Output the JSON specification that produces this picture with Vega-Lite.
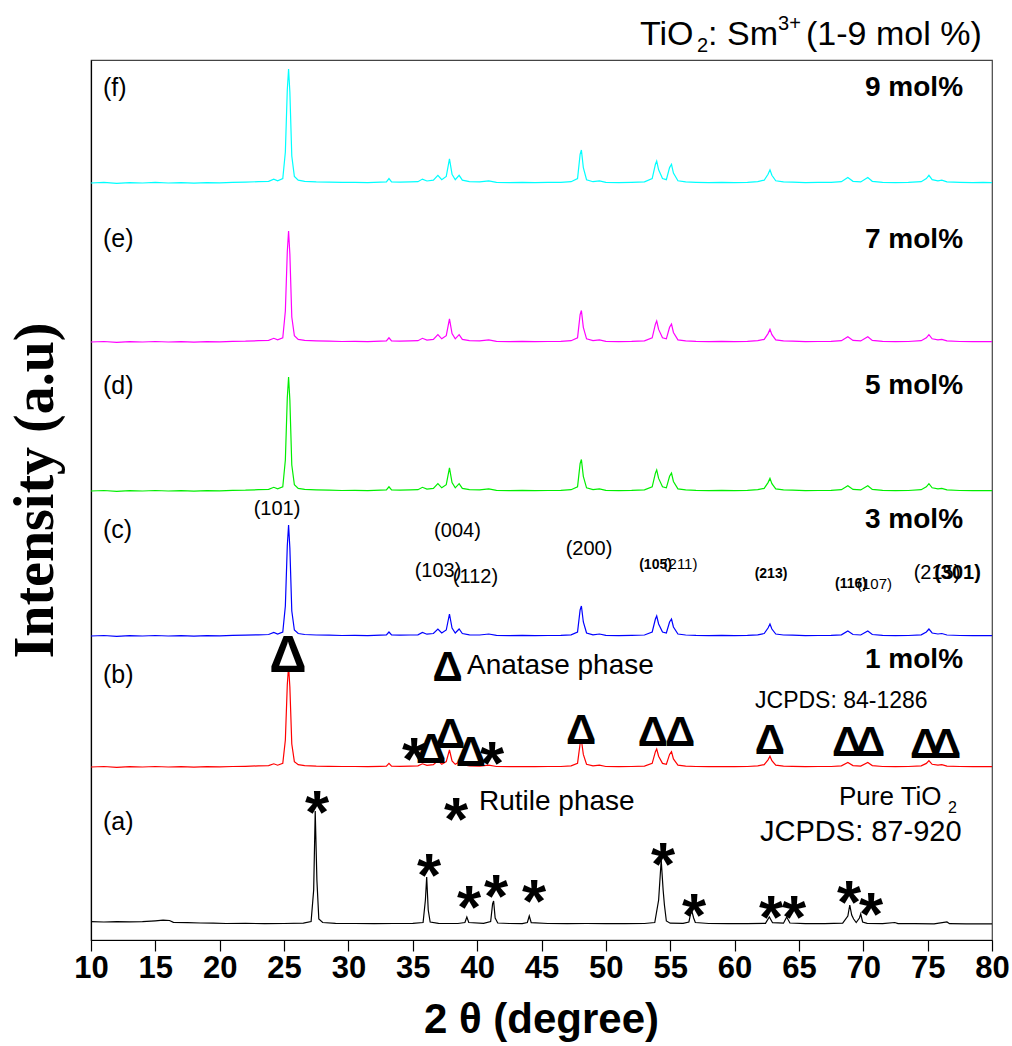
{
"$schema":"https://vega.github.io/schema/vega-lite/v6.json",
"width":901,"height":880,
"autosize":{"type":"none"},
"padding":{"left":91,"top":60,"right":20,"bottom":106},
"background":"white",
"config":{"view":{"stroke":"#444","strokeWidth":1.2},"font":"Liberation Sans"},
"datasets":{
"xrd":[
{"s":"a","x":10,"y":18.3},{"s":"a","x":11,"y":18.0},{"s":"a","x":12,"y":18.4},{"s":"a","x":13,"y":18.1},{"s":"a","x":14,"y":18.3},{"s":"a","x":15,"y":19.2},{"s":"a","x":15.6,"y":19.8},{"s":"a","x":16.1,"y":19.5},{"s":"a","x":16.4,"y":17.6},{"s":"a","x":17.5,"y":17.4},{"s":"a","x":18.5,"y":17.0},{"s":"a","x":19.5,"y":16.8},{"s":"a","x":20.5,"y":16.5},{"s":"a","x":22,"y":16.6},{"s":"a","x":23.5,"y":16.4},{"s":"a","x":25,"y":16.5},{"s":"a","x":26.5,"y":16.8},{"s":"a","x":27.1,"y":18.5},{"s":"a","x":27.3,"y":50},{"s":"a","x":27.42,"y":129},{"s":"a","x":27.55,"y":60},{"s":"a","x":27.7,"y":21},{"s":"a","x":28,"y":17.5},{"s":"a","x":29,"y":16.6},{"s":"a","x":30.5,"y":16.5},{"s":"a","x":32,"y":16.4},{"s":"a","x":33.5,"y":16.5},{"s":"a","x":35,"y":16.6},{"s":"a","x":35.8,"y":17.5},{"s":"a","x":35.98,"y":40},{"s":"a","x":36.08,"y":63},{"s":"a","x":36.2,"y":30},{"s":"a","x":36.35,"y":18},{"s":"a","x":37,"y":16.6},{"s":"a","x":38.5,"y":16.5},{"s":"a","x":39.05,"y":17.5},{"s":"a","x":39.2,"y":23},{"s":"a","x":39.35,"y":17.5},{"s":"a","x":40.5,"y":16.6},{"s":"a","x":41.05,"y":18.5},{"s":"a","x":41.2,"y":36},{"s":"a","x":41.28,"y":39},{"s":"a","x":41.4,"y":22},{"s":"a","x":41.6,"y":17},{"s":"a","x":42.5,"y":16.5},{"s":"a","x":43.5,"y":16.4},{"s":"a","x":43.9,"y":17.5},{"s":"a","x":44.05,"y":24},{"s":"a","x":44.2,"y":17.3},{"s":"a","x":45.5,"y":16.5},{"s":"a","x":47,"y":16.4},{"s":"a","x":48.5,"y":16.5},{"s":"a","x":50,"y":16.3},{"s":"a","x":51.5,"y":16.4},{"s":"a","x":53,"y":16.5},{"s":"a","x":53.8,"y":17.5},{"s":"a","x":54.1,"y":40},{"s":"a","x":54.3,"y":80},{"s":"a","x":54.45,"y":50},{"s":"a","x":54.55,"y":35},{"s":"a","x":54.7,"y":19},{"s":"a","x":55,"y":16.8},{"s":"a","x":56,"y":16.6},{"s":"a","x":56.45,"y":18},{"s":"a","x":56.6,"y":27},{"s":"a","x":56.7,"y":28},{"s":"a","x":56.82,"y":22},{"s":"a","x":56.95,"y":17.5},{"s":"a","x":58,"y":16.5},{"s":"a","x":59.5,"y":16.4},{"s":"a","x":61,"y":16.3},{"s":"a","x":62.4,"y":16.7},{"s":"a","x":62.7,"y":23},{"s":"a","x":62.95,"y":17.3},{"s":"a","x":63.8,"y":16.8},{"s":"a","x":64.05,"y":23},{"s":"a","x":64.3,"y":17},{"s":"a","x":65.5,"y":16.4},{"s":"a","x":67,"y":16.3},{"s":"a","x":68.4,"y":16.8},{"s":"a","x":68.8,"y":24},{"s":"a","x":68.95,"y":35},{"s":"a","x":69.1,"y":25},{"s":"a","x":69.25,"y":21},{"s":"a","x":69.45,"y":17.5},{"s":"a","x":69.7,"y":22},{"s":"a","x":69.8,"y":26},{"s":"a","x":69.95,"y":18},{"s":"a","x":70.3,"y":16.6},{"s":"a","x":71.5,"y":16.4},{"s":"a","x":72.45,"y":17.5},{"s":"a","x":72.7,"y":16.4},{"s":"a","x":74,"y":16.3},{"s":"a","x":75.5,"y":16.2},{"s":"a","x":76.5,"y":18},{"s":"a","x":76.7,"y":16.3},{"s":"a","x":78,"y":16.2},{"s":"a","x":80,"y":16.1},

{"s":"b","x":10,"y":173},{"s":"b","x":11,"y":173.5},{"s":"b","x":12,"y":172.7},{"s":"b","x":13,"y":173.4},{"s":"b","x":14,"y":173},{"s":"b","x":15,"y":173.5},{"s":"b","x":16,"y":173},{"s":"b","x":17,"y":173.3},{"s":"b","x":18,"y":172.8},{"s":"b","x":19,"y":173.4},{"s":"b","x":20,"y":173.2},{"s":"b","x":21,"y":173.5},{"s":"b","x":22,"y":173.7},{"s":"b","x":23,"y":174.1},{"s":"b","x":23.8,"y":174.4},{"s":"b","x":24.2,"y":176.2},{"s":"b","x":24.5,"y":174.8},{"s":"b","x":24.9,"y":176.6},{"s":"b","x":25.1,"y":200},{"s":"b","x":25.25,"y":255},{"s":"b","x":25.35,"y":274},{"s":"b","x":25.45,"y":253},{"s":"b","x":25.6,"y":196},{"s":"b","x":25.8,"y":178.4},{"s":"b","x":26.1,"y":175.3},{"s":"b","x":26.6,"y":174.4},{"s":"b","x":27.5,"y":173.9},{"s":"b","x":28.5,"y":173.7},{"s":"b","x":29.5,"y":173.5},{"s":"b","x":30.5,"y":173.5},{"s":"b","x":31.5,"y":173.4},{"s":"b","x":32.5,"y":173.7},{"s":"b","x":32.95,"y":173.9},{"s":"b","x":33.15,"y":176.6},{"s":"b","x":33.35,"y":173.9},{"s":"b","x":34,"y":173.7},{"s":"b","x":34.8,"y":173.9},{"s":"b","x":35.4,"y":174.1},{"s":"b","x":35.75,"y":176.2},{"s":"b","x":36.1,"y":174.6},{"s":"b","x":36.6,"y":175.3},{"s":"b","x":36.95,"y":179.3},{"s":"b","x":37.25,"y":175.7},{"s":"b","x":37.6,"y":178.4},{"s":"b","x":37.85,"y":190},{"s":"b","x":38.05,"y":179},{"s":"b","x":38.3,"y":175.7},{"s":"b","x":38.6,"y":178},{"s":"b","x":38.85,"y":175.3},{"s":"b","x":39.4,"y":174.1},{"s":"b","x":40.2,"y":173.9},{"s":"b","x":40.9,"y":174.8},{"s":"b","x":41.5,"y":173.5},{"s":"b","x":42.5,"y":173.4},{"s":"b","x":43.5,"y":173.5},{"s":"b","x":44.5,"y":173.3},{"s":"b","x":45.5,"y":173.5},{"s":"b","x":46.5,"y":173.5},{"s":"b","x":47.3,"y":174.1},{"s":"b","x":47.8,"y":176.6},{"s":"b","x":48,"y":196.4},{"s":"b","x":48.1,"y":200},{"s":"b","x":48.25,"y":185.6},{"s":"b","x":48.5,"y":175.7},{"s":"b","x":49,"y":174.1},{"s":"b","x":49.5,"y":174.8},{"s":"b","x":50,"y":173.5},{"s":"b","x":51,"y":173.4},{"s":"b","x":52,"y":173.5},{"s":"b","x":53,"y":173.9},{"s":"b","x":53.6,"y":176.6},{"s":"b","x":53.85,"y":188.3},{"s":"b","x":53.95,"y":191},{"s":"b","x":54.1,"y":183.8},{"s":"b","x":54.4,"y":176.6},{"s":"b","x":54.7,"y":175.7},{"s":"b","x":54.95,"y":185.6},{"s":"b","x":55.1,"y":188.3},{"s":"b","x":55.25,"y":181.1},{"s":"b","x":55.6,"y":174.8},{"s":"b","x":56.2,"y":173.9},{"s":"b","x":57,"y":173.5},{"s":"b","x":58,"y":173.4},{"s":"b","x":59,"y":173.5},{"s":"b","x":60,"y":173.3},{"s":"b","x":61,"y":173.5},{"s":"b","x":61.8,"y":174.1},{"s":"b","x":62.3,"y":175.3},{"s":"b","x":62.6,"y":180.2},{"s":"b","x":62.75,"y":183.8},{"s":"b","x":62.9,"y":179.3},{"s":"b","x":63.2,"y":174.8},{"s":"b","x":63.8,"y":173.9},{"s":"b","x":64.5,"y":173.7},{"s":"b","x":65.5,"y":173.4},{"s":"b","x":66.5,"y":173.5},{"s":"b","x":67.5,"y":173.5},{"s":"b","x":68.3,"y":174.1},{"s":"b","x":68.8,"y":177.5},{"s":"b","x":69.2,"y":174.4},{"s":"b","x":69.8,"y":173.9},{"s":"b","x":70.35,"y":177.5},{"s":"b","x":70.7,"y":174.4},{"s":"b","x":71.5,"y":173.5},{"s":"b","x":72.5,"y":173.4},{"s":"b","x":73.5,"y":173.5},{"s":"b","x":74.5,"y":174.1},{"s":"b","x":74.9,"y":176.6},{"s":"b","x":75.1,"y":179.3},{"s":"b","x":75.35,"y":175.7},{"s":"b","x":75.8,"y":174.8},{"s":"b","x":76.1,"y":175.3},{"s":"b","x":76.5,"y":173.9},{"s":"b","x":77.5,"y":173.5},{"s":"b","x":78.5,"y":173.3},{"s":"b","x":79.3,"y":173.5},{"s":"b","x":80,"y":173.3},

{"s":"c","x":10,"y":304},{"s":"c","x":11,"y":304.5},{"s":"c","x":12,"y":303.7},{"s":"c","x":13,"y":304.4},{"s":"c","x":14,"y":304},{"s":"c","x":15,"y":304.5},{"s":"c","x":16,"y":304},{"s":"c","x":17,"y":304.3},{"s":"c","x":18,"y":303.8},{"s":"c","x":19,"y":304.4},{"s":"c","x":20,"y":304.2},{"s":"c","x":21,"y":304.6},{"s":"c","x":22,"y":304.8},{"s":"c","x":23,"y":305.2},{"s":"c","x":23.8,"y":305.5},{"s":"c","x":24.2,"y":307.5},{"s":"c","x":24.5,"y":306},{"s":"c","x":24.9,"y":308},{"s":"c","x":25.1,"y":334},{"s":"c","x":25.25,"y":394},{"s":"c","x":25.35,"y":415},{"s":"c","x":25.45,"y":392},{"s":"c","x":25.6,"y":329},{"s":"c","x":25.8,"y":310},{"s":"c","x":26.1,"y":306.5},{"s":"c","x":26.6,"y":305.5},{"s":"c","x":27.5,"y":305},{"s":"c","x":28.5,"y":304.8},{"s":"c","x":29.5,"y":304.5},{"s":"c","x":30.5,"y":304.6},{"s":"c","x":31.5,"y":304.4},{"s":"c","x":32.5,"y":304.8},{"s":"c","x":32.95,"y":305},{"s":"c","x":33.15,"y":308},{"s":"c","x":33.35,"y":305},{"s":"c","x":34,"y":304.8},{"s":"c","x":34.8,"y":305},{"s":"c","x":35.4,"y":305.2},{"s":"c","x":35.75,"y":307.5},{"s":"c","x":36.1,"y":305.8},{"s":"c","x":36.6,"y":306.5},{"s":"c","x":36.95,"y":311},{"s":"c","x":37.25,"y":307},{"s":"c","x":37.6,"y":310},{"s":"c","x":37.85,"y":326},{"s":"c","x":38.05,"y":312},{"s":"c","x":38.3,"y":307},{"s":"c","x":38.6,"y":311},{"s":"c","x":38.85,"y":306.5},{"s":"c","x":39.4,"y":305.2},{"s":"c","x":40.2,"y":305},{"s":"c","x":40.9,"y":306},{"s":"c","x":41.5,"y":304.6},{"s":"c","x":42.5,"y":304.4},{"s":"c","x":43.5,"y":304.6},{"s":"c","x":44.5,"y":304.3},{"s":"c","x":45.5,"y":304.5},{"s":"c","x":46.5,"y":304.6},{"s":"c","x":47.3,"y":305.2},{"s":"c","x":47.8,"y":308},{"s":"c","x":48,"y":330},{"s":"c","x":48.1,"y":334},{"s":"c","x":48.25,"y":318},{"s":"c","x":48.5,"y":307},{"s":"c","x":49,"y":305.2},{"s":"c","x":49.5,"y":306},{"s":"c","x":50,"y":304.6},{"s":"c","x":51,"y":304.4},{"s":"c","x":52,"y":304.6},{"s":"c","x":53,"y":305},{"s":"c","x":53.6,"y":308},{"s":"c","x":53.85,"y":321},{"s":"c","x":53.95,"y":324},{"s":"c","x":54.1,"y":316},{"s":"c","x":54.4,"y":308},{"s":"c","x":54.7,"y":307},{"s":"c","x":54.95,"y":318},{"s":"c","x":55.1,"y":321},{"s":"c","x":55.25,"y":313},{"s":"c","x":55.6,"y":306},{"s":"c","x":56.2,"y":305},{"s":"c","x":57,"y":304.6},{"s":"c","x":58,"y":304.4},{"s":"c","x":59,"y":304.6},{"s":"c","x":60,"y":304.3},{"s":"c","x":61,"y":304.6},{"s":"c","x":61.8,"y":305.2},{"s":"c","x":62.3,"y":306.5},{"s":"c","x":62.6,"y":312},{"s":"c","x":62.75,"y":316},{"s":"c","x":62.9,"y":311},{"s":"c","x":63.2,"y":306},{"s":"c","x":63.8,"y":305},{"s":"c","x":64.5,"y":304.8},{"s":"c","x":65.5,"y":304.4},{"s":"c","x":66.5,"y":304.5},{"s":"c","x":67.5,"y":304.6},{"s":"c","x":68.3,"y":305.2},{"s":"c","x":68.8,"y":309},{"s":"c","x":69.2,"y":305.5},{"s":"c","x":69.8,"y":305},{"s":"c","x":70.35,"y":309},{"s":"c","x":70.7,"y":305.5},{"s":"c","x":71.5,"y":304.6},{"s":"c","x":72.5,"y":304.4},{"s":"c","x":73.5,"y":304.5},{"s":"c","x":74.5,"y":305.2},{"s":"c","x":74.9,"y":308},{"s":"c","x":75.1,"y":311},{"s":"c","x":75.35,"y":307},{"s":"c","x":75.8,"y":306},{"s":"c","x":76.1,"y":306.5},{"s":"c","x":76.5,"y":305},{"s":"c","x":77.5,"y":304.5},{"s":"c","x":78.5,"y":304.3},{"s":"c","x":79.3,"y":304.5},{"s":"c","x":80,"y":304.3},

{"s":"d","x":10,"y":449},{"s":"d","x":11,"y":449.5},{"s":"d","x":12,"y":448.7},{"s":"d","x":13,"y":449.4},{"s":"d","x":14,"y":449},{"s":"d","x":15,"y":449.5},{"s":"d","x":16,"y":449},{"s":"d","x":17,"y":449.3},{"s":"d","x":18,"y":448.8},{"s":"d","x":19,"y":449.4},{"s":"d","x":20,"y":449.2},{"s":"d","x":21,"y":449.6},{"s":"d","x":22,"y":449.8},{"s":"d","x":23,"y":450.3},{"s":"d","x":23.8,"y":450.6},{"s":"d","x":24.2,"y":452.7},{"s":"d","x":24.5,"y":451.1},{"s":"d","x":24.9,"y":453.2},{"s":"d","x":25.1,"y":480},{"s":"d","x":25.25,"y":542},{"s":"d","x":25.35,"y":563},{"s":"d","x":25.45,"y":540},{"s":"d","x":25.6,"y":475},{"s":"d","x":25.8,"y":455.3},{"s":"d","x":26.1,"y":451.6},{"s":"d","x":26.6,"y":450.6},{"s":"d","x":27.5,"y":450.1},{"s":"d","x":28.5,"y":449.8},{"s":"d","x":29.5,"y":449.5},{"s":"d","x":30.5,"y":449.6},{"s":"d","x":31.5,"y":449.4},{"s":"d","x":32.5,"y":449.8},{"s":"d","x":32.95,"y":450.1},{"s":"d","x":33.15,"y":453.2},{"s":"d","x":33.35,"y":450.1},{"s":"d","x":34,"y":449.8},{"s":"d","x":34.8,"y":450.1},{"s":"d","x":35.4,"y":450.3},{"s":"d","x":35.75,"y":452.7},{"s":"d","x":36.1,"y":450.9},{"s":"d","x":36.6,"y":451.6},{"s":"d","x":36.95,"y":456.4},{"s":"d","x":37.25,"y":452.2},{"s":"d","x":37.6,"y":455.3},{"s":"d","x":37.85,"y":472.1},{"s":"d","x":38.05,"y":457.4},{"s":"d","x":38.3,"y":452.2},{"s":"d","x":38.6,"y":456.4},{"s":"d","x":38.85,"y":451.6},{"s":"d","x":39.4,"y":450.3},{"s":"d","x":40.2,"y":450.1},{"s":"d","x":40.9,"y":451.1},{"s":"d","x":41.5,"y":449.6},{"s":"d","x":42.5,"y":449.4},{"s":"d","x":43.5,"y":449.6},{"s":"d","x":44.5,"y":449.3},{"s":"d","x":45.5,"y":449.5},{"s":"d","x":46.5,"y":449.6},{"s":"d","x":47.3,"y":450.3},{"s":"d","x":47.8,"y":453.2},{"s":"d","x":48,"y":476.3},{"s":"d","x":48.1,"y":480.5},{"s":"d","x":48.25,"y":463.7},{"s":"d","x":48.5,"y":452.2},{"s":"d","x":49,"y":450.3},{"s":"d","x":49.5,"y":451.1},{"s":"d","x":50,"y":449.6},{"s":"d","x":51,"y":449.4},{"s":"d","x":52,"y":449.6},{"s":"d","x":53,"y":450.1},{"s":"d","x":53.6,"y":453.2},{"s":"d","x":53.85,"y":466.9},{"s":"d","x":53.95,"y":470},{"s":"d","x":54.1,"y":461.6},{"s":"d","x":54.4,"y":453.2},{"s":"d","x":54.7,"y":452.2},{"s":"d","x":54.95,"y":463.7},{"s":"d","x":55.1,"y":466.9},{"s":"d","x":55.25,"y":458.5},{"s":"d","x":55.6,"y":451.1},{"s":"d","x":56.2,"y":450.1},{"s":"d","x":57,"y":449.6},{"s":"d","x":58,"y":449.4},{"s":"d","x":59,"y":449.6},{"s":"d","x":60,"y":449.3},{"s":"d","x":61,"y":449.6},{"s":"d","x":61.8,"y":450.3},{"s":"d","x":62.3,"y":451.6},{"s":"d","x":62.6,"y":457.4},{"s":"d","x":62.75,"y":461.6},{"s":"d","x":62.9,"y":456.4},{"s":"d","x":63.2,"y":451.1},{"s":"d","x":63.8,"y":450.1},{"s":"d","x":64.5,"y":449.8},{"s":"d","x":65.5,"y":449.4},{"s":"d","x":66.5,"y":449.5},{"s":"d","x":67.5,"y":449.6},{"s":"d","x":68.3,"y":450.3},{"s":"d","x":68.8,"y":454.3},{"s":"d","x":69.2,"y":450.6},{"s":"d","x":69.8,"y":450.1},{"s":"d","x":70.35,"y":454.3},{"s":"d","x":70.7,"y":450.6},{"s":"d","x":71.5,"y":449.6},{"s":"d","x":72.5,"y":449.4},{"s":"d","x":73.5,"y":449.5},{"s":"d","x":74.5,"y":450.3},{"s":"d","x":74.9,"y":453.2},{"s":"d","x":75.1,"y":456.4},{"s":"d","x":75.35,"y":452.2},{"s":"d","x":75.8,"y":451.1},{"s":"d","x":76.1,"y":451.6},{"s":"d","x":76.5,"y":450.1},{"s":"d","x":77.5,"y":449.5},{"s":"d","x":78.5,"y":449.3},{"s":"d","x":79.3,"y":449.5},{"s":"d","x":80,"y":449.3},

{"s":"e","x":10,"y":598},{"s":"e","x":11,"y":598.5},{"s":"e","x":12,"y":597.7},{"s":"e","x":13,"y":598.4},{"s":"e","x":14,"y":598},{"s":"e","x":15,"y":598.5},{"s":"e","x":16,"y":598},{"s":"e","x":17,"y":598.3},{"s":"e","x":18,"y":597.8},{"s":"e","x":19,"y":598.4},{"s":"e","x":20,"y":598.2},{"s":"e","x":21,"y":598.6},{"s":"e","x":22,"y":598.8},{"s":"e","x":23,"y":599.3},{"s":"e","x":23.8,"y":599.6},{"s":"e","x":24.2,"y":601.7},{"s":"e","x":24.5,"y":600.1},{"s":"e","x":24.9,"y":602.2},{"s":"e","x":25.1,"y":629},{"s":"e","x":25.25,"y":688},{"s":"e","x":25.35,"y":709},{"s":"e","x":25.45,"y":686},{"s":"e","x":25.6,"y":623},{"s":"e","x":25.8,"y":604.3},{"s":"e","x":26.1,"y":600.6},{"s":"e","x":26.6,"y":599.6},{"s":"e","x":27.5,"y":599.1},{"s":"e","x":28.5,"y":598.8},{"s":"e","x":29.5,"y":598.5},{"s":"e","x":30.5,"y":598.6},{"s":"e","x":31.5,"y":598.4},{"s":"e","x":32.5,"y":598.8},{"s":"e","x":32.95,"y":599.1},{"s":"e","x":33.15,"y":602.2},{"s":"e","x":33.35,"y":599.1},{"s":"e","x":34,"y":598.8},{"s":"e","x":34.8,"y":599.1},{"s":"e","x":35.4,"y":599.3},{"s":"e","x":35.75,"y":601.7},{"s":"e","x":36.1,"y":599.9},{"s":"e","x":36.6,"y":600.6},{"s":"e","x":36.95,"y":605.4},{"s":"e","x":37.25,"y":601.2},{"s":"e","x":37.6,"y":604.3},{"s":"e","x":37.85,"y":621.1},{"s":"e","x":38.05,"y":606.4},{"s":"e","x":38.3,"y":601.2},{"s":"e","x":38.6,"y":605.4},{"s":"e","x":38.85,"y":600.6},{"s":"e","x":39.4,"y":599.3},{"s":"e","x":40.2,"y":599.1},{"s":"e","x":40.9,"y":600.1},{"s":"e","x":41.5,"y":598.6},{"s":"e","x":42.5,"y":598.4},{"s":"e","x":43.5,"y":598.6},{"s":"e","x":44.5,"y":598.3},{"s":"e","x":45.5,"y":598.5},{"s":"e","x":46.5,"y":598.6},{"s":"e","x":47.3,"y":599.3},{"s":"e","x":47.8,"y":602.2},{"s":"e","x":48,"y":625.3},{"s":"e","x":48.1,"y":629.5},{"s":"e","x":48.25,"y":612.7},{"s":"e","x":48.5,"y":601.2},{"s":"e","x":49,"y":599.3},{"s":"e","x":49.5,"y":600.1},{"s":"e","x":50,"y":598.6},{"s":"e","x":51,"y":598.4},{"s":"e","x":52,"y":598.6},{"s":"e","x":53,"y":599.1},{"s":"e","x":53.6,"y":602.2},{"s":"e","x":53.85,"y":615.9},{"s":"e","x":53.95,"y":619},{"s":"e","x":54.1,"y":610.6},{"s":"e","x":54.4,"y":602.2},{"s":"e","x":54.7,"y":601.2},{"s":"e","x":54.95,"y":612.7},{"s":"e","x":55.1,"y":615.9},{"s":"e","x":55.25,"y":607.5},{"s":"e","x":55.6,"y":600.1},{"s":"e","x":56.2,"y":599.1},{"s":"e","x":57,"y":598.6},{"s":"e","x":58,"y":598.4},{"s":"e","x":59,"y":598.6},{"s":"e","x":60,"y":598.3},{"s":"e","x":61,"y":598.6},{"s":"e","x":61.8,"y":599.3},{"s":"e","x":62.3,"y":600.6},{"s":"e","x":62.6,"y":606.4},{"s":"e","x":62.75,"y":610.6},{"s":"e","x":62.9,"y":605.4},{"s":"e","x":63.2,"y":600.1},{"s":"e","x":63.8,"y":599.1},{"s":"e","x":64.5,"y":598.8},{"s":"e","x":65.5,"y":598.4},{"s":"e","x":66.5,"y":598.5},{"s":"e","x":67.5,"y":598.6},{"s":"e","x":68.3,"y":599.3},{"s":"e","x":68.8,"y":603.3},{"s":"e","x":69.2,"y":599.6},{"s":"e","x":69.8,"y":599.1},{"s":"e","x":70.35,"y":603.3},{"s":"e","x":70.7,"y":599.6},{"s":"e","x":71.5,"y":598.6},{"s":"e","x":72.5,"y":598.4},{"s":"e","x":73.5,"y":598.5},{"s":"e","x":74.5,"y":599.3},{"s":"e","x":74.9,"y":602.2},{"s":"e","x":75.1,"y":605.4},{"s":"e","x":75.35,"y":601.2},{"s":"e","x":75.8,"y":600.1},{"s":"e","x":76.1,"y":600.6},{"s":"e","x":76.5,"y":599.1},{"s":"e","x":77.5,"y":598.5},{"s":"e","x":78.5,"y":598.3},{"s":"e","x":79.3,"y":598.5},{"s":"e","x":80,"y":598.3},

{"s":"f","x":10,"y":757},{"s":"f","x":11,"y":757.6},{"s":"f","x":12,"y":756.7},{"s":"f","x":13,"y":757.4},{"s":"f","x":14,"y":757},{"s":"f","x":15,"y":757.6},{"s":"f","x":16,"y":757},{"s":"f","x":17,"y":757.3},{"s":"f","x":18,"y":756.8},{"s":"f","x":19,"y":757.4},{"s":"f","x":20,"y":757.2},{"s":"f","x":21,"y":757.7},{"s":"f","x":22,"y":757.9},{"s":"f","x":23,"y":758.3},{"s":"f","x":23.8,"y":758.7},{"s":"f","x":24.2,"y":760.9},{"s":"f","x":24.5,"y":759.2},{"s":"f","x":24.9,"y":761.4},{"s":"f","x":25.1,"y":788},{"s":"f","x":25.25,"y":850},{"s":"f","x":25.35,"y":871},{"s":"f","x":25.45,"y":848},{"s":"f","x":25.6,"y":784},{"s":"f","x":25.8,"y":763.6},{"s":"f","x":26.1,"y":759.8},{"s":"f","x":26.6,"y":758.7},{"s":"f","x":27.5,"y":758.1},{"s":"f","x":28.5,"y":757.9},{"s":"f","x":29.5,"y":757.6},{"s":"f","x":30.5,"y":757.7},{"s":"f","x":31.5,"y":757.4},{"s":"f","x":32.5,"y":757.9},{"s":"f","x":32.95,"y":758.1},{"s":"f","x":33.15,"y":761.4},{"s":"f","x":33.35,"y":758.1},{"s":"f","x":34,"y":757.9},{"s":"f","x":34.8,"y":758.1},{"s":"f","x":35.4,"y":758.3},{"s":"f","x":35.75,"y":760.9},{"s":"f","x":36.1,"y":759},{"s":"f","x":36.6,"y":759.8},{"s":"f","x":36.95,"y":764.7},{"s":"f","x":37.25,"y":760.3},{"s":"f","x":37.6,"y":763.6},{"s":"f","x":37.85,"y":781.2},{"s":"f","x":38.05,"y":765.8},{"s":"f","x":38.3,"y":760.3},{"s":"f","x":38.6,"y":764.7},{"s":"f","x":38.85,"y":759.8},{"s":"f","x":39.4,"y":758.3},{"s":"f","x":40.2,"y":758.1},{"s":"f","x":40.9,"y":759.2},{"s":"f","x":41.5,"y":757.7},{"s":"f","x":42.5,"y":757.4},{"s":"f","x":43.5,"y":757.7},{"s":"f","x":44.5,"y":757.3},{"s":"f","x":45.5,"y":757.6},{"s":"f","x":46.5,"y":757.7},{"s":"f","x":47.3,"y":758.3},{"s":"f","x":47.8,"y":761.4},{"s":"f","x":48,"y":785.6},{"s":"f","x":48.1,"y":790},{"s":"f","x":48.25,"y":772.4},{"s":"f","x":48.5,"y":760.3},{"s":"f","x":49,"y":758.3},{"s":"f","x":49.5,"y":759.2},{"s":"f","x":50,"y":757.7},{"s":"f","x":51,"y":757.4},{"s":"f","x":52,"y":757.7},{"s":"f","x":53,"y":758.1},{"s":"f","x":53.6,"y":761.4},{"s":"f","x":53.85,"y":775.7},{"s":"f","x":53.95,"y":779},{"s":"f","x":54.1,"y":770.2},{"s":"f","x":54.4,"y":761.4},{"s":"f","x":54.7,"y":760.3},{"s":"f","x":54.95,"y":772.4},{"s":"f","x":55.1,"y":775.7},{"s":"f","x":55.25,"y":766.9},{"s":"f","x":55.6,"y":759.2},{"s":"f","x":56.2,"y":758.1},{"s":"f","x":57,"y":757.7},{"s":"f","x":58,"y":757.4},{"s":"f","x":59,"y":757.7},{"s":"f","x":60,"y":757.3},{"s":"f","x":61,"y":757.7},{"s":"f","x":61.8,"y":758.3},{"s":"f","x":62.3,"y":759.8},{"s":"f","x":62.6,"y":765.8},{"s":"f","x":62.75,"y":770.2},{"s":"f","x":62.9,"y":764.7},{"s":"f","x":63.2,"y":759.2},{"s":"f","x":63.8,"y":758.1},{"s":"f","x":64.5,"y":757.9},{"s":"f","x":65.5,"y":757.4},{"s":"f","x":66.5,"y":757.6},{"s":"f","x":67.5,"y":757.7},{"s":"f","x":68.3,"y":758.3},{"s":"f","x":68.8,"y":762.5},{"s":"f","x":69.2,"y":758.7},{"s":"f","x":69.8,"y":758.1},{"s":"f","x":70.35,"y":762.5},{"s":"f","x":70.7,"y":758.7},{"s":"f","x":71.5,"y":757.7},{"s":"f","x":72.5,"y":757.4},{"s":"f","x":73.5,"y":757.6},{"s":"f","x":74.5,"y":758.3},{"s":"f","x":74.9,"y":761.4},{"s":"f","x":75.1,"y":764.7},{"s":"f","x":75.35,"y":760.3},{"s":"f","x":75.8,"y":759.2},{"s":"f","x":76.1,"y":759.8},{"s":"f","x":76.5,"y":758.1},{"s":"f","x":77.5,"y":757.6},{"s":"f","x":78.5,"y":757.3},{"s":"f","x":79.3,"y":757.6},{"s":"f","x":80,"y":757.3}
],
"notes":[
{"g":"lab","x":10.93,"y":852,"t":"(f)"},{"g":"lab","x":10.93,"y":701,"t":"(e)"},{"g":"lab","x":10.93,"y":554,"t":"(d)"},{"g":"lab","x":10.93,"y":410,"t":"(c)"},{"g":"lab","x":10.93,"y":265,"t":"(b)"},{"g":"lab","x":10.93,"y":118,"t":"(a)"},
{"g":"mol","x":77.75,"y":852,"t":"9 mol%"},{"g":"mol","x":77.75,"y":700,"t":"7 mol%"},{"g":"mol","x":77.75,"y":554,"t":"5 mol%"},{"g":"mol","x":77.75,"y":420,"t":"3 mol%"},{"g":"mol","x":77.75,"y":280,"t":"1 mol%"},
{"g":"i20","x":24.45,"y":431,"t":"(101)"},{"g":"i20","x":38.47,"y":409,"t":"(004)"},{"g":"i20","x":36.96,"y":369,"t":"(103)"},{"g":"i20","x":39.87,"y":363,"t":"(112)"},{"g":"i20","x":48.69,"y":391,"t":"(200)"},{"g":"i20","x":75.73,"y":367,"t":"(215)"},
{"g":"i15","x":55.80,"y":376,"t":"(211)"},{"g":"i15","x":70.87,"y":356,"t":"(107)"},
{"g":"ib15","x":53.86,"y":375,"t":"(105)"},{"g":"ib15","x":62.83,"y":366,"t":"(213)"},{"g":"ib15","x":69.05,"y":356,"t":"(116)"},
{"g":"ib20","x":77.32,"y":367,"t":"(301)"},
{"g":"ph","x":39.21,"y":274,"t":"Anatase phase"},{"g":"ph","x":40.14,"y":138,"t":"Rutile phase"},
{"g":"jc1","x":61.59,"y":239,"t":"JCPDS: 84-1286"},
{"g":"pure","x":68.11,"y":143,"t":"Pure TiO"},
{"g":"sub","x":76.58,"y":132,"t":"2"},
{"g":"jc2","x":61.98,"y":108,"t":"JCPDS: 87-920"},
{"g":"bigtri","x":25.31,"y":284,"t":"Δ"},
{"g":"tri","x":37.70,"y":272,"t":"Δ"},{"g":"tri","x":36.42,"y":190,"t":"Δ"},{"g":"tri","x":37.89,"y":205,"t":"Δ"},{"g":"tri","x":39.52,"y":187,"t":"Δ"},{"g":"tri","x":48.07,"y":209,"t":"Δ"},{"g":"tri","x":53.66,"y":207,"t":"Δ"},{"g":"tri","x":55.76,"y":207,"t":"Δ"},{"g":"tri","x":62.75,"y":199,"t":"Δ"},{"g":"tri","x":68.74,"y":197,"t":"Δ"},{"g":"tri","x":70.52,"y":197,"t":"Δ"},{"g":"tri","x":74.80,"y":195,"t":"Δ"},{"g":"tri","x":76.43,"y":195,"t":"Δ"},
{"g":"ast","x":27.56,"y":141,"t":"*"},{"g":"ast","x":36.26,"y":78,"t":"*"},{"g":"ast","x":39.37,"y":46,"t":"*"},{"g":"ast","x":41.47,"y":57,"t":"*"},{"g":"ast","x":44.42,"y":52,"t":"*"},{"g":"ast","x":54.44,"y":89,"t":"*"},{"g":"ast","x":56.85,"y":38,"t":"*"},{"g":"ast","x":62.83,"y":36,"t":"*"},{"g":"ast","x":64.62,"y":36,"t":"*"},{"g":"ast","x":68.89,"y":51,"t":"*"},{"g":"ast","x":70.60,"y":39,"t":"*"},{"g":"ast","x":38.36,"y":134,"t":"*"},{"g":"ast","x":35.10,"y":194,"t":"*"},{"g":"ast","x":41.16,"y":190,"t":"*"},
{"g":"ti","x":52.65,"y":895,"t":"TiO"},{"g":"ti","x":57.94,"y":895,"t":": Sm"},{"g":"ti","x":65.55,"y":895,"t":"(1-9 mol %)"},
{"g":"tisub","x":57.08,"y":888,"t":"2"},{"g":"tisub","x":63.38,"y":910,"t":"3+"}
]
},
"data":{"name":"xrd"},
"encoding":{
"x":{"field":"x","type":"quantitative","scale":{"domain":[10,80],"nice":false,"zero":false},
"axis":{"values":[10,15,20,25,30,35,40,45,50,55,60,65,70,75,80],"format":"d","grid":false,"domainColor":"#000","domainWidth":1.2,"tickColor":"#000","tickWidth":1.2,"tickSize":11,"labelFont":"Liberation Sans","labelFontWeight":"bold","labelFontSize":31,"labelColor":"#000","labelPadding":2,"labelFlush":false,"labelOverlap":false,"title":"2 θ (degree)","titleFont":"Liberation Sans","titleFontSize":42,"titleFontWeight":"bold","titleColor":"#000","titleBaseline":"alphabetic","titleX":450,"titleY":92}},
"y":{"field":"y","type":"quantitative","scale":{"domain":[0,880],"nice":false,"zero":false},
"axis":{"grid":false,"ticks":false,"labels":false,"domainColor":"#000","domainWidth":1.2,"title":"Intensity (a.u)","titleFont":"Liberation Serif","titleFontSize":56,"titleFontWeight":"bold","titleColor":"#000","titleAngle":-90,"titleAlign":"center","titleBaseline":"alphabetic","titleX":-39,"titleY":430}}
},
"layer":[
{"mark":{"type":"line","strokeWidth":1.2,"clip":true},
 "encoding":{"color":{"field":"s","type":"nominal","legend":null,"scale":{"domain":["a","b","c","d","e","f"],"range":["#000000","#ff0000","#0000ff","#00ee00","#ff00ff","#00ffff"]}}}},
{"data":{"name":"notes"},"transform":[{"filter":{"field":"g","equal":"lab"}}],"mark":{"type":"text","font":"Liberation Sans","fontSize":25,"align":"left","baseline":"middle","color":"#000"},"encoding":{"text":{"field":"t"}}},
{"data":{"name":"notes"},"transform":[{"filter":{"field":"g","equal":"mol"}}],"mark":{"type":"text","font":"Liberation Sans","fontSize":28,"fontWeight":"bold","align":"right","baseline":"middle","color":"#000"},"encoding":{"text":{"field":"t"}}},
{"data":{"name":"notes"},"transform":[{"filter":{"field":"g","equal":"i20"}}],"mark":{"type":"text","font":"Liberation Sans","fontSize":20,"align":"center","baseline":"middle","color":"#000"},"encoding":{"text":{"field":"t"}}},
{"data":{"name":"notes"},"transform":[{"filter":{"field":"g","equal":"i15"}}],"mark":{"type":"text","font":"Liberation Sans","fontSize":15,"align":"center","baseline":"middle","color":"#000"},"encoding":{"text":{"field":"t"}}},
{"data":{"name":"notes"},"transform":[{"filter":{"field":"g","equal":"ib15"}}],"mark":{"type":"text","font":"Liberation Sans","fontSize":14,"fontWeight":"bold","align":"center","baseline":"middle","color":"#000"},"encoding":{"text":{"field":"t"}}},
{"data":{"name":"notes"},"transform":[{"filter":{"field":"g","equal":"ib20"}}],"mark":{"type":"text","font":"Liberation Sans","fontSize":20,"fontWeight":"bold","align":"center","baseline":"middle","color":"#000"},"encoding":{"text":{"field":"t"}}},
{"data":{"name":"notes"},"transform":[{"filter":{"field":"g","equal":"ph"}}],"mark":{"type":"text","font":"Liberation Sans","fontSize":28,"align":"left","baseline":"middle","color":"#000"},"encoding":{"text":{"field":"t"}}},
{"data":{"name":"notes"},"transform":[{"filter":{"field":"g","equal":"jc1"}}],"mark":{"type":"text","font":"Liberation Sans","fontSize":23,"align":"left","baseline":"middle","color":"#000"},"encoding":{"text":{"field":"t"}}},
{"data":{"name":"notes"},"transform":[{"filter":{"field":"g","equal":"pure"}}],"mark":{"type":"text","font":"Liberation Sans","fontSize":26,"align":"left","baseline":"middle","color":"#000"},"encoding":{"text":{"field":"t"}}},
{"data":{"name":"notes"},"transform":[{"filter":{"field":"g","equal":"sub"}}],"mark":{"type":"text","font":"Liberation Sans","fontSize":16,"align":"left","baseline":"middle","color":"#000"},"encoding":{"text":{"field":"t"}}},
{"data":{"name":"notes"},"transform":[{"filter":{"field":"g","equal":"jc2"}}],"mark":{"type":"text","font":"Liberation Sans","fontSize":29,"align":"left","baseline":"middle","color":"#000"},"encoding":{"text":{"field":"t"}}},
{"data":{"name":"notes"},"transform":[{"filter":{"field":"g","equal":"bigtri"}}],"mark":{"type":"text","font":"Liberation Sans","fontSize":52,"fontWeight":"bold","align":"center","baseline":"middle","color":"#000"},"encoding":{"text":{"field":"t"}}},
{"data":{"name":"notes"},"transform":[{"filter":{"field":"g","equal":"tri"}}],"mark":{"type":"text","font":"Liberation Sans","fontSize":42,"fontWeight":"bold","align":"center","baseline":"middle","color":"#000"},"encoding":{"text":{"field":"t"}}},
{"data":{"name":"notes"},"transform":[{"filter":{"field":"g","equal":"ast"}}],"mark":{"type":"text","font":"Liberation Sans","fontSize":62,"fontWeight":"bold","align":"center","baseline":"alphabetic","dy":34,"color":"#000"},"encoding":{"text":{"field":"t"}}},
{"data":{"name":"notes"},"transform":[{"filter":{"field":"g","equal":"ti"}}],"mark":{"type":"text","font":"Liberation Sans","fontSize":34,"align":"left","baseline":"alphabetic","color":"#000"},"encoding":{"text":{"field":"t"}}},
{"data":{"name":"notes"},"transform":[{"filter":{"field":"g","equal":"tisub"}}],"mark":{"type":"text","font":"Liberation Sans","fontSize":20,"align":"left","baseline":"alphabetic","color":"#000"},"encoding":{"text":{"field":"t"}}}
]
}
